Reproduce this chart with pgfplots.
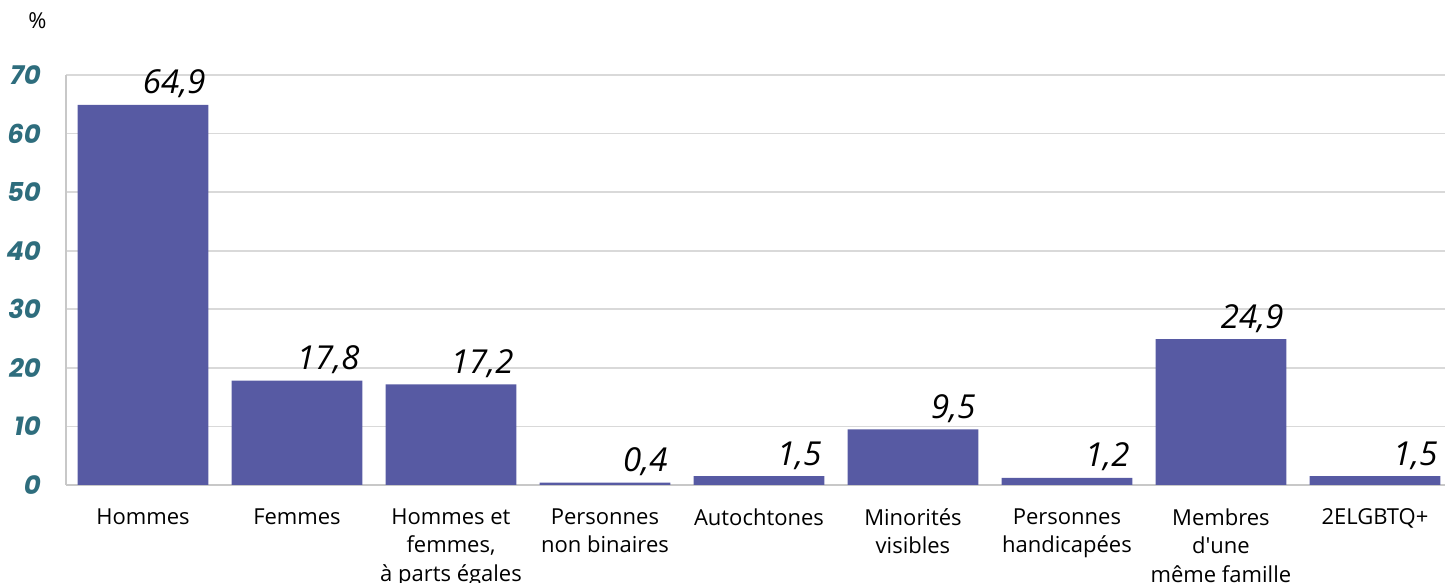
\documentclass[border=0pt]{standalone}
\usepackage{fontspec}
\setmainfont{Open Sans}
\newfontfamily\tickfont{Poppins}
\usepackage{pgfplots}
\pgfplotsset{compat=1.18}
\definecolor{barc}{HTML}{575AA3}
\definecolor{tealc}{HTML}{2E6D7D}
\definecolor{gridc}{HTML}{D9D9D9}
\definecolor{axc}{HTML}{C8C8C8}
\begin{document}
\begin{tikzpicture}
\useasboundingbox (0,0) rectangle (722.5pt,291.5pt);
\clip (0,0) rectangle (722.5pt,291.5pt);
\begin{axis}[
  at={(33pt,49pt)}, anchor=south west,
  width=689.5pt, height=205pt, scale only axis,
  xmin=-0.5, xmax=8.455, ymin=0, ymax=70,
  axis x line*=bottom, axis y line*=left,
  axis line style={draw=axc, line width=0.9pt, -},
  ytick={0,10,...,70},
  ymajorgrids, grid style={draw=gridc, line width=0.9pt},
  major y tick style={draw=none},
  yticklabel style={font=\tickfont\bfseries\itshape\fontsize{13}{13}\selectfont, text=tealc, anchor=east, xshift=-9pt},
  /pgf/number format/assume math mode=true,
  xtick={0,...,8},
  major x tick style={draw=none},
  xticklabels={Hommes, Femmes, {Hommes et\\femmes,\\à parts égales}, {Personnes\\non binaires}, Autochtones, {Minorités\\visibles}, {Personnes\\handicapées}, {Membres\\d\textquotesingle une\\même famille}, 2ELGBTQ+},
  xticklabel style={font=\fontsize{11}{14.2}\selectfont, align=center, anchor=north, yshift=-4pt},
  extra x ticks={0.5,1.5,...,7.5},
  extra x tick labels={},
  extra x tick style={tick align=inside, major tick length=5pt, tick style={draw=axc, line width=0.9pt}, xmajorgrids=false},
  ybar, bar width=0.85, bar shift=0pt,
  nodes near coords={\pgfmathprintnumber[use comma, fixed, fixed zerofill, precision=1, assume math mode=true]{\pgfplotspointmeta}},
  nodes near coords style={font=\itshape\fontsize{16.5}{16.5}\selectfont, text=black, anchor=base east, xshift=31.5pt, yshift=5.5pt, inner sep=0pt},
  clip=false,
]
\addplot[fill=barc, draw=none] coordinates {(0,64.9) (1,17.8) (2,17.2) (3,0.4) (4,1.5) (5,9.5) (6,1.2) (7,24.9) (8,1.5)};
\end{axis}
\node[anchor=base west, font=\fontsize{11}{11}\selectfont, inner sep=0pt] at (14pt,277pt) {\%};
\end{tikzpicture}
\end{document}
